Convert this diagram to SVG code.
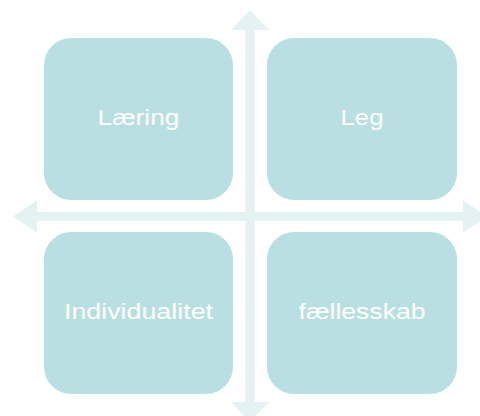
<svg xmlns="http://www.w3.org/2000/svg" width="480" height="416" viewBox="0 0 480 416">
<style>
.box{fill:#BADFE3}
.arrow{fill:#E4F2F4}
.lbl{font-family:"Liberation Sans",Arial,sans-serif;font-size:22px;fill:#FFFFFF;text-anchor:middle}
</style>
<rect width="480" height="416" fill="#FFFFFF"/>
<g id="connectors">
<polygon class="arrow" points="13,216.5 37,200.5 37,212 463,212 463,200.5 487,216.5 463,232.5 463,221 37,221 37,232.5"/>
<polygon class="arrow" points="250,10 269,30 254.5,30 254.5,402 269,402 250,422 231,402 245.5,402 245.5,30 231,30"/>
</g>
<g id="node-laering">
<rect class="box" x="44" y="38" width="189" height="162" rx="27" ry="27"/>
<text class="lbl" x="138.5" y="125" textLength="82" lengthAdjust="spacingAndGlyphs">Læring</text>
</g>
<g id="node-leg">
<rect class="box" x="267" y="38" width="190" height="162" rx="27" ry="27"/>
<text class="lbl" x="362" y="125" textLength="43" lengthAdjust="spacingAndGlyphs">Leg</text>
</g>
<g id="node-individualitet">
<rect class="box" x="44" y="232" width="189" height="162" rx="27" ry="27"/>
<text class="lbl" x="138.5" y="319" textLength="149" lengthAdjust="spacingAndGlyphs">Individualitet</text>
</g>
<g id="node-faellesskab">
<rect class="box" x="267" y="232" width="190" height="162" rx="27" ry="27"/>
<text class="lbl" x="362" y="319" textLength="127" lengthAdjust="spacingAndGlyphs">fællesskab</text>
</g>
</svg>
